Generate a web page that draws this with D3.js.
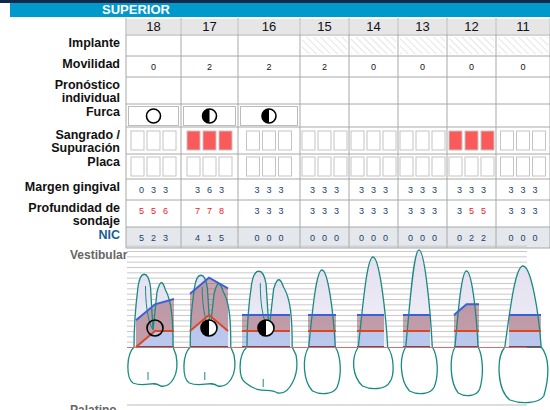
<!DOCTYPE html><html><head><meta charset="utf-8">
<script src="https://cdn.jsdelivr.net/npm/d3@7"></script>
<style>body{margin:0;background:#fff}svg{display:block;font-family:Arial,"Liberation Sans",sans-serif}</style></head><body>
<svg id="c" width="550" height="410"></svg>
<script>
const teeth = ["18","17","16","15","14","13","12","11"];
const implanteHatched = [false,false,false,true,true,true,true,true];
const movilidad = [0,2,2,2,0,0,0,0];
const furca = ["open","half","half",null,null,null,null,null];
const sangrado = [[0,0,0],[1,1,1],[0,0,0],[0,0,0],[0,0,0],[0,0,0],[1,1,1],[0,0,0]];
const placa = [[0,0,0],[0,0,0],[0,0,0],[0,0,0],[0,0,0],[0,0,0],[0,0,0],[0,0,0]];
const margen = [[0,3,3],[3,6,3],[3,3,3],[3,3,3],[3,3,3],[3,3,3],[3,3,3],[3,3,3]];
const profundidad = [[5,5,6],[7,7,8],[3,3,3],[3,3,3],[3,3,3],[3,3,3],[3,5,5],[3,3,3]];
const nic = [[5,2,3],[4,1,5],[0,0,0],[0,0,0],[0,0,0],[0,0,0],[0,2,2],[0,0,0]];
const toothType = ["molar","molar","molar","premolar","premolar","canine","incisor","incisor"];
const rowLabels = [["Implante"],["Movilidad"],["Pronóstico","individual"],["Furca"],["Sangrado /","Supuración"],["Placa"],["Margen gingival"],["Profundidad de","sondaje"],["NIC"]];

const svg = d3.select("#c");
const defs = svg.append("defs");
const colEdges = [126,181,238,300,349,398,447,496,550];
const rowEdges = [35,56,77,104,127,154,179,200,227,248];
const grid = "#a8a8a8";
svg.append("rect").attr("x",0).attr("y",0).attr("width",550).attr("height",3).attr("fill","#0d2a4a");
svg.append("rect").attr("x",10).attr("y",3).attr("width",540).attr("height",14).attr("fill","#0099cc");
svg.append("text").attr("x",136).attr("y",14).attr("text-anchor","middle").attr("fill","#fff").attr("font-weight","bold").attr("font-size",13).text("SUPERIOR");
teeth.forEach((t,i)=>{
  const x0=colEdges[i],x1=colEdges[i+1];
  svg.append("rect").attr("x",x0+1).attr("y",19).attr("width",x1-x0-2).attr("height",15).attr("fill","#e6e6e6");
  svg.append("text").attr("x",(x0+x1)/2).attr("y",31).attr("text-anchor","middle").attr("font-size",13).attr("fill","#111").text(t);
});
const pat=defs.append("pattern").attr("id","h").attr("width",5).attr("height",5).attr("patternUnits","userSpaceOnUse").attr("patternTransform","rotate(-45)");
pat.append("line").attr("x1",0).attr("y1",0).attr("x2",0).attr("y2",5).attr("stroke","#ddd").attr("stroke-width",1.5);
teeth.forEach((t,i)=>{ if(implanteHatched[i]) svg.append("rect").attr("x",colEdges[i]+2).attr("y",37).attr("width",colEdges[i+1]-colEdges[i]-4).attr("height",17).attr("fill","url(#h)");});
svg.append("rect").attr("x",126).attr("y",227).attr("width",424).attr("height",21).attr("fill","#e4e7eb");
rowEdges.forEach(y=>svg.append("line").attr("x1",126).attr("x2",550).attr("y1",y).attr("y2",y).attr("stroke",grid));
colEdges.forEach(x=>svg.append("line").attr("x1",x).attr("x2",x).attr("y1",18).attr("y2",248).attr("stroke",grid));
rowLabels.forEach((lines,r)=>{
  lines.forEach((s,k)=>svg.append("text").attr("x",120).attr("y",rowEdges[r]+12+k*13).attr("text-anchor","end").attr("font-weight","bold").attr("font-size",12.5).attr("fill",r===8?"#1b5e96":"#111").text(s));
});
const mid=i=>(colEdges[i]+colEdges[i+1])/2;
const valColor="#1a3d6e";
function triple(arr,y,redFn){
  arr.forEach((v,i)=>v.forEach((d,k)=>svg.append("text").attr("x",mid(i)+(k-1)*12).attr("y",y).attr("text-anchor","middle").attr("font-size",9).attr("fill",redFn&&redFn(d)?"#e8192c":valColor).text(d)));
}
movilidad.forEach((d,i)=>svg.append("text").attr("x",mid(i)).attr("y",70).attr("text-anchor","middle").attr("font-size",9).attr("fill","#111").text(d));
triple(margen,193);
triple(profundidad,214,d=>d>=5);
triple(nic,241);
function furcaIcon(g,x,y,r,type){
  if(type==="open") g.append("circle").attr("cx",x).attr("cy",y).attr("r",r).attr("fill","none").attr("stroke","#000").attr("stroke-width",1.6);
  else{
    g.append("circle").attr("cx",x).attr("cy",y).attr("r",r).attr("fill","#fff").attr("stroke","#000").attr("stroke-width",1.6);
    g.append("path").attr("d",`M${x},${y-r}A${r},${r} 0 0 0 ${x},${y+r}Z`).attr("fill","#000");
  }
}
furca.forEach((f,i)=>{ if(!f) return;
  svg.append("rect").attr("x",colEdges[i]+2.5).attr("y",106.5).attr("width",colEdges[i+1]-colEdges[i]-5).attr("height",19).attr("fill","none").attr("stroke","#bbb");
  furcaIcon(svg,mid(i),116,7,f);
});
function boxes(arr,y){
  arr.forEach((v,i)=>v.forEach((d,k)=>svg.append("rect").attr("x",mid(i)+(k-1)*16-6.5).attr("y",y).attr("width",13).attr("height",19).attr("fill",d?"#fa5a5a":"#fff").attr("stroke","#c4c4c4")));
}
boxes(sangrado,131); boxes(placa,157);

svg.append("text").attr("x",70).attr("y",259).attr("font-weight","bold").attr("font-size",12).attr("fill","#666").text("Vestibular");
svg.append("text").attr("x",70).attr("y",414).attr("font-weight","bold").attr("font-size",12).attr("fill","#666").text("Palatino");
svg.append("line").attr("x1",127).attr("x2",527).attr("y1",405).attr("y2",405).attr("stroke","#ddd").attr("stroke-width",2);
const y=d3.scaleLinear().domain([0,18]).range([347,251]);
d3.range(0,20).forEach(m=>svg.append("line").attr("x1",127).attr("x2",527).attr("y1",y(m)+0.5).attr("y2",y(m)+0.5).attr("stroke","#c8c8c8"));

const geo=[[128,178,272,386],[184,236,273,386],[240,298,269,393],[303,341,270,393],[352,394,257,388],[400,438,250,393],[450,483,271,395],[497,549,266,402]];
const fill=[[136,174],[190,228],[242,290],[308,336],[357,384],[403,430],[454,479],[509,541]];
const teal="#178a82";
const gr=defs.append("linearGradient").attr("id","rg").attr("x1",0).attr("x2",0).attr("y1",0).attr("y2",1);
gr.append("stop").attr("offset",0).attr("stop-color","#e4e0f0");gr.append("stop").attr("offset",1).attr("stop-color","#f8f8fd");
function toothPath(i){
  const [l,r,top,bot]=geo[i], t=toothType[i], c=(l+r)/2, w=r-l;
  const p=d3.path();
  if(t==="molar"){
    p.moveTo(l+w*0.12,347);
    p.bezierCurveTo(l-2,355,l-2,378,l+w*0.1,383);
    p.bezierCurveTo(l+w*0.35,bot+2,l+w*0.5,bot-6,l+w*0.65,bot);
    p.bezierCurveTo(l+w*0.85,bot+2,r+2,375,r-2,355);
    p.lineTo(r-w*0.1,347);
    p.bezierCurveTo(r-w*0.1,320,r-w*0.12,top+30,r-w*0.25,top+18);
    p.bezierCurveTo(r-w*0.3,top+10,c+w*0.15,top+6,c+w*0.08,top+20);
    p.lineTo(c,330);
    p.lineTo(c-w*0.05,top+15);
    p.bezierCurveTo(c-w*0.1,top-2,l+w*0.25,top-2,l+w*0.2,top+15);
    p.bezierCurveTo(l+w*0.15,top+35,l+w*0.12,320,l+w*0.12,347);
  } else {
    p.moveTo(l+w*0.15,347);
    p.bezierCurveTo(l-1,358,l,bot-12,l+w*0.25,bot-2);
    p.bezierCurveTo(l+w*0.45,bot+2,r-w*0.2,bot+2,r-w*0.1,bot-6);
    p.bezierCurveTo(r+1,375,r,356,r-w*0.15,347);
    p.bezierCurveTo(r-w*0.2,310,c+w*0.15,top,c,top);
    p.bezierCurveTo(c-w*0.15,top,l+w*0.25,310,l+w*0.15,347);
  }
  return p.toString();
}
teeth.forEach((t,i)=>defs.append("clipPath").attr("id","cp"+i).append("path").attr("d",toothPath(i)));
teeth.forEach((t,i)=>{
  svg.append("path").attr("d",toothPath(i)).attr("fill","url(#rg)");
  svg.append("rect").attr("x",geo[i][0]-5).attr("y",347).attr("width",geo[i][1]-geo[i][0]+10).attr("height",70).attr("fill","#fff").attr("clip-path",`url(#cp${i})`);
});
teeth.forEach((t,i)=>{
  const [a,b]=fill[i];
  const xs=[a,(a+b)/2,b];
  const red=margen[i].map((m,k)=>[xs[k],y(m)]);
  const blue=margen[i].map((m,k)=>[xs[k],y(m+profundidad[i][k])]);
  const area=(top,bottom)=>"M"+top.map(p=>p.join(",")).join("L")+"L"+bottom.slice().reverse().map(p=>p.join(",")).join("L")+"Z";
  const base=xs.map(x=>[x,347]);
  svg.append("path").attr("d",area(red,base)).attr("fill","#7b9ae0").attr("opacity",0.45);
  svg.append("path").attr("d",area(blue,red)).attr("fill","#8a3a4a").attr("opacity",0.45);
  svg.append("line").attr("x1",a).attr("x2",b).attr("y1",347).attr("y2",347).attr("stroke","#333").attr("stroke-width",1.5);
});
teeth.forEach((t,i)=>{
  svg.append("path").attr("d",toothPath(i)).attr("fill","none").attr("stroke",teal).attr("stroke-width",1.3);
  const [l,r,top,bot]=geo[i], w=r-l, c=(l+r)/2;
  if(toothType[i]==="molar"){
    svg.append("path").attr("d",`M${c-w*0.1},${bot-6}L${c-w*0.1},${bot-14}`).attr("stroke",teal).attr("fill","none");
    svg.append("path").attr("d",`M${l+w*0.35},${top+14}C${l+w*0.35},300 ${l+w*0.38},320 ${c},330`).attr("stroke",teal).attr("fill","none");
  }
});
svg.append("line").attr("x1",127).attr("x2",527).attr("y1",347.5).attr("y2",347.5).attr("stroke","#e06a6a").attr("stroke-width",1);
const line=d3.line();
teeth.forEach((t,i)=>{
  const [a,b]=fill[i]; const xs=[a,(a+b)/2,b];
  svg.append("path").attr("d",line(margen[i].map((m,k)=>[xs[k],y(m)]))).attr("fill","none").attr("stroke","#e0461e").attr("stroke-width",2);
  svg.append("path").attr("d",line(margen[i].map((m,k)=>[xs[k],y(m+profundidad[i][k])]))).attr("fill","none").attr("stroke","#3a62d8").attr("stroke-width",2);
});
furca.forEach((f,i)=>{ if(f) furcaIcon(svg,[155,209,266][i],328,8,f);});
</script></body></html>
